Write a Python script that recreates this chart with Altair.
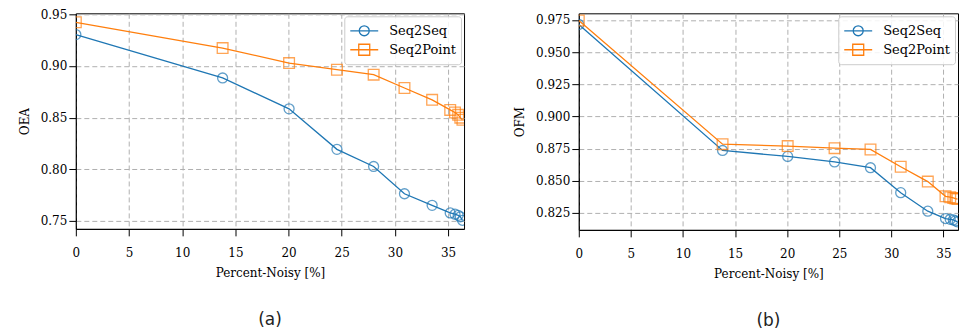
import altair as alt
import pandas as pd

# Percent of noisy samples on the x axis (shared by both panels)
noisy = [0.0, 13.8, 20.05, 24.55, 28.0, 30.9, 33.5, 35.2, 35.65, 35.95, 36.15, 36.35]

# Panel (a): OEA
oea_seq2seq = [0.9304, 0.8884, 0.8585, 0.8193, 0.8027, 0.7763, 0.7651, 0.7577, 0.7565, 0.7554, 0.7540, 0.7506]
oea_seq2point = [0.9423, 0.9173, 0.9028, 0.8964, 0.8916, 0.8787, 0.8672, 0.8575, 0.8550, 0.8527, 0.8500, 0.8480]

# Panel (b): OFM
ofm_seq2seq = [0.9714, 0.8735, 0.8689, 0.8646, 0.8601, 0.8407, 0.8263, 0.8206, 0.8200, 0.8195, 0.8188, 0.8180]
ofm_seq2point = [0.9745, 0.8784, 0.8769, 0.8753, 0.8743, 0.8609, 0.8493, 0.8379, 0.8372, 0.8366, 0.8361, 0.8357]

series_names = ["Seq2Seq", "Seq2Point"]
series_colors = ["#1f77b4", "#ff7f0e"]
series_shapes = ["circle", "square"]

# legend glyphs: a short line with the marker drawn on top of it
legend_paths = [
    "M-1,0H1M0.357,0A0.357,0.357,0,1,1,-0.357,0A0.357,0.357,0,1,1,0.357,0Z",
    "M-1,0H1M-0.393,-0.393H0.393V0.393H-0.393Z",
]

SERIF = "DejaVu Serif"
TEXT_SIZE = 12


def long_frame(seq2seq, seq2point):
    rows = []
    for name, vals in zip(series_names, [seq2seq, seq2point]):
        for x, y in zip(noisy, vals):
            rows.append({"noisy": x, "value": y, "series": name})
    return pd.DataFrame(rows)


def axis(**kw):
    return alt.Axis(
        labelFont=SERIF, titleFont=SERIF, labelFontSize=TEXT_SIZE, titleFontSize=TEXT_SIZE,
        titleFontWeight="normal", labelColor="black", titleColor="black",
        labelFlush=False, **kw,
    )


def panel(df, ytitle, ydomain, yticks, yfmt, xmax, width, height, label):
    xenc = alt.X(
        "noisy:Q",
        scale=alt.Scale(domain=[0, xmax], nice=False, zero=False),
        axis=axis(values=[0, 5, 10, 15, 20, 25, 30, 35], title="Percent-Noisy [%]",
                  labelPadding=12, titlePadding=9),
    )
    yenc = alt.Y(
        "value:Q",
        scale=alt.Scale(domain=ydomain, nice=False, zero=False),
        axis=axis(values=yticks, format=yfmt, title=ytitle, titlePadding=9, labelPadding=2),
    )
    layers = []
    for name, color, shape in zip(series_names, series_colors, series_shapes):
        base = alt.Chart(df).transform_filter(alt.datum.series == name)
        layers.append(
            base.mark_line(color=color, strokeWidth=1.3, clip=True).encode(x=xenc, y=yenc)
        )
        layers.append(
            base.mark_point(color=color, shape=shape, size=100 if shape == "circle" else 115,
                            filled=False, strokeWidth=1.3, clip=True).encode(x=xenc, y=yenc)
        )
    leg = alt.Legend(
        title=None, orient="top-right", offset=3, padding=5,
        strokeColor="#cccccc", fillColor="rgba(255,255,255,0.85)", cornerRadius=3,
        symbolSize=784, symbolStrokeWidth=1.3, symbolOpacity=1, clipHeight=19,
        labelFont=SERIF, labelFontSize=TEXT_SIZE + 1, labelColor="black", labelOffset=10,
        rowPadding=0,
    )
    legend_layer = alt.Chart(df).mark_point(filled=False, opacity=0, strokeWidth=1.3).encode(
        x=xenc, y=yenc,
        color=alt.Color("series:N", scale=alt.Scale(domain=series_names, range=series_colors), legend=leg),
        shape=alt.Shape("series:N", scale=alt.Scale(domain=series_names, range=legend_paths), legend=leg),
    )
    return alt.layer(*layers, legend_layer).properties(
        width=width, height=height,
        title=alt.TitleParams(label, orient="bottom", font="DejaVu Sans", fontSize=17,
                              fontWeight="normal", color="#222222", offset=33, anchor="middle"),
    )


left = panel(long_frame(oea_seq2seq, oea_seq2point), "OEA", [0.7423, 0.951],
             [0.75, 0.80, 0.85, 0.90, 0.95], ".2f", 36.5, 389, 216, "(a)")
right = panel(long_frame(ofm_seq2seq, ofm_seq2point), "OFM", [0.8118, 0.9801],
              [0.825, 0.850, 0.875, 0.900, 0.925, 0.950, 0.975], ".3f", 36.4, 380, 217, "(b)")

chart = alt.hconcat(left, right, spacing=47).resolve_scale(
    color="independent", shape="independent"
).resolve_legend(
    color="independent", shape="independent"
).properties(
    padding={"left": 17, "top": 7, "right": 0, "bottom": 0}
).configure(font=SERIF).configure_view(stroke="black", strokeWidth=1).configure_axis(
    domainColor="black", tickColor="black",
    gridColor="#b0b0b0", gridDash=[5, 3], gridWidth=1,
    tickSize=7, domainWidth=1,
)

chart.save("out.html", embed_options={"renderer": "svg", "actions": False})
